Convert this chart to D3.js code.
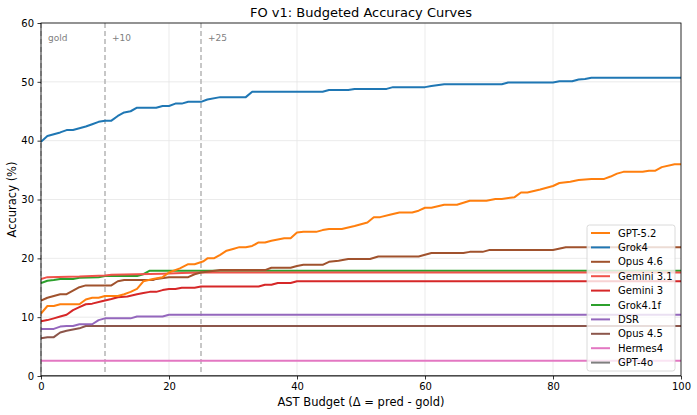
<!DOCTYPE html>
<html>
<head>
<meta charset="utf-8">
<script src="https://cdn.jsdelivr.net/npm/d3@7"></script>
<style>
  body { margin: 0; background: #fff; }
  text { font-family: "DejaVu Sans", sans-serif; }
</style>
</head>
<body>
<svg id="chart" width="697" height="415"></svg>
<script>
// budget (x) and accuracy (y) vertices per model
var gpt52X = [0, 1, 2, 3, 6, 7, 8, 9, 10, 12, 13, 14, 15, 16, 17.5, 19, 20, 21.7, 23, 24, 25.4, 26, 27, 28, 29, 30, 31, 32, 33, 34, 35, 36, 38, 39, 40, 41, 43, 44, 45, 47, 49, 51, 52, 53, 54.5, 56, 58, 59, 60, 61, 63, 65, 67, 69.6, 71, 72, 74, 75, 76, 78, 80, 81, 82.7, 84, 86, 88, 89, 90, 91, 94, 95, 96, 97, 99, 100];
var gpt52Y = [10.6, 11.9, 11.9, 12.2, 12.2, 13.0, 13.3, 13.3, 13.6, 13.6, 13.9, 14.3, 14.8, 16.1, 16.5, 16.8, 17.6, 18.3, 19.0, 19.0, 19.5, 20.0, 20.0, 20.6, 21.3, 21.6, 21.9, 21.9, 22.1, 22.7, 22.7, 23.0, 23.4, 23.4, 24.4, 24.5, 24.5, 24.8, 25.0, 25.0, 25.5, 26.1, 27.0, 27.0, 27.4, 27.8, 27.8, 28.1, 28.6, 28.6, 29.1, 29.1, 29.8, 29.8, 30.1, 30.1, 30.4, 31.2, 31.2, 31.7, 32.3, 32.8, 33.0, 33.3, 33.5, 33.5, 33.9, 34.4, 34.7, 34.7, 34.9, 34.9, 35.5, 36.0, 36.0];

var grok4X = [0, 1, 2, 3, 4, 5, 6, 7, 8, 9, 10, 11, 12, 13, 14, 15, 18, 19, 20, 21, 22, 23, 25, 26, 28, 32, 33, 44, 45, 48, 49, 54, 55, 60, 61, 63, 72, 73, 80, 81, 83, 84, 85, 86, 100];
var grok4Y = [39.8, 40.8, 41.1, 41.4, 41.8, 41.8, 42.1, 42.4, 42.8, 43.2, 43.4, 43.4, 44.2, 44.8, 45.0, 45.6, 45.6, 45.9, 45.9, 46.3, 46.3, 46.6, 46.6, 47.0, 47.4, 47.4, 48.3, 48.3, 48.6, 48.6, 48.8, 48.8, 49.1, 49.1, 49.3, 49.6, 49.6, 49.9, 49.9, 50.1, 50.1, 50.4, 50.5, 50.7, 50.7];

var opus46X = [0, 1, 2, 3, 4, 5, 6, 7, 11, 12, 13, 17.5, 18, 20, 23, 24, 25, 28, 35, 36, 39, 40, 41, 44, 45, 46.5, 48, 51.4, 52.7, 59, 61, 66, 67, 69, 70, 80, 82, 100];
var opus46Y = [12.8, 13.3, 13.6, 13.9, 13.9, 14.5, 15.1, 15.4, 15.4, 16.1, 16.3, 16.3, 16.5, 16.8, 16.8, 17.3, 17.6, 18.0, 18.0, 18.4, 18.4, 18.7, 18.9, 18.9, 19.4, 19.6, 19.9, 19.9, 20.3, 20.3, 20.9, 20.9, 21.1, 21.1, 21.4, 21.4, 21.9, 21.9];

var gemini31X = [0, 1, 6, 10, 11, 15, 19, 22, 25, 100];
var gemini31Y = [16.5, 16.8, 16.9, 17.1, 17.2, 17.3, 17.4, 17.5, 17.6, 17.6];

var gemini3X = [0, 1, 2, 3, 4, 5, 6, 7, 8, 9.5, 11, 12, 13.5, 15, 16, 17, 18, 19, 20, 21, 22, 24, 25, 34, 35, 36, 37, 39, 40, 100];
var gemini3Y = [9.3, 9.5, 9.8, 10.1, 10.4, 11.2, 11.7, 12.2, 12.3, 12.7, 13.1, 13.4, 13.5, 13.9, 14.1, 14.3, 14.3, 14.6, 14.8, 14.8, 15.0, 15.0, 15.2, 15.2, 15.5, 15.5, 15.8, 15.8, 16.1, 16.1];

var grok41fX = [0, 1, 2, 3, 5, 6, 9, 10, 15, 16, 17, 100];
var grok41fY = [15.8, 16.2, 16.3, 16.5, 16.5, 16.7, 16.8, 17.0, 17.0, 17.3, 17.9, 17.9];

var dsrX = [0, 2, 3, 4, 5, 6, 8, 9, 10, 14, 15, 19, 20, 100];
var dsrY = [8.0, 8.0, 8.4, 8.5, 8.5, 8.8, 8.8, 9.5, 9.8, 9.8, 10.1, 10.1, 10.4, 10.4];

var opus45X = [0, 1, 2, 3, 4, 6, 7, 100];
var opus45Y = [6.4, 6.6, 6.6, 7.4, 7.7, 8.1, 8.5, 8.5];

var hermes4X = [0, 100];
var hermes4Y = [2.6, 2.6];

var gpt4oX = [0, 100];
var gpt4oY = [0, 0];

var models = ["GPT-5.2", "Grok4", "Opus 4.6", "Gemini 3.1", "Gemini 3", "Grok4.1f", "DSR", "Opus 4.5", "Hermes4", "GPT-4o"];
var modelX = [gpt52X, grok4X, opus46X, gemini31X, gemini3X, grok41fX, dsrX, opus45X, hermes4X, gpt4oX];
var modelY = [gpt52Y, grok4Y, opus46Y, gemini31Y, gemini3Y, grok41fY, dsrY, opus45Y, hermes4Y, gpt4oY];
var colors = ["#ff7f0e", "#1f77b4", "#a0522d", "#f0524a", "#d62728", "#2ca02c", "#9467bd", "#8c564b", "#e377c2", "#7f7f7f"];

var xTicks = [0, 20, 40, 60, 80, 100];
var yTicks = [0, 10, 20, 30, 40, 50, 60];
var markers = [0, 10, 25];
var markerLabels = ["gold", "+10", "+25"];

var svg = d3.select("#chart");
var margin = {top: 23, right: 16, bottom: 39, left: 41};
var width = 697 - margin.left - margin.right,
    height = 415 - margin.top - margin.bottom;

var g = svg.append("g").attr("transform", "translate(" + margin.left + "," + margin.top + ")");

var x = d3.scaleLinear().domain([0, 100]).range([0, width]);
var y = d3.scaleLinear().domain([0, 60]).range([height, 0]);

// grid
g.append("g").selectAll("line").data(xTicks).enter().append("line")
    .attr("x1", function(d) { return x(d); }).attr("x2", function(d) { return x(d); })
    .attr("y1", 0).attr("y2", height)
    .attr("stroke", "#e6e6e6").attr("stroke-width", 0.8);
g.append("g").selectAll("line").data(yTicks).enter().append("line")
    .attr("x1", 0).attr("x2", width)
    .attr("y1", function(d) { return y(d); }).attr("y2", function(d) { return y(d); })
    .attr("stroke", "#e6e6e6").attr("stroke-width", 0.8);

// budget markers
g.append("g").selectAll("line").data(markers).enter().append("line")
    .attr("x1", function(d) { return x(d); }).attr("x2", function(d) { return x(d); })
    .attr("y1", 0).attr("y2", height)
    .attr("stroke", "#b0b0b0").attr("stroke-width", 1.4)
    .attr("stroke-dasharray", "5,3");
g.append("g").selectAll("text").data(markers).enter().append("text")
    .attr("x", function(d) { return x(d) + 7; })
    .attr("y", 18)
    .attr("font-size", "9px")
    .attr("fill", "#808080")
    .text(function(d, i) { return markerLabels[i]; });

g.append("clipPath").attr("id", "clip").append("rect")
    .attr("x", 0).attr("y", -2).attr("width", width).attr("height", height + 2);

var line = d3.line()
    .x(function(d) { return x(d[0]); })
    .y(function(d) { return y(d[1]); });

var curves = g.append("g").attr("clip-path", "url(#clip)");
for (var i = models.length - 1; i >= 0; i--) {
    var pts = modelX[i].map(function(v, j) { return [v, modelY[i][j]]; });
    curves.append("path")
        .datum(pts)
        .attr("d", line)
        .attr("fill", "none")
        .attr("stroke", colors[i])
        .attr("stroke-width", 2)
        .attr("stroke-linejoin", "round");
}

// axes
var xAxis = g.append("g").attr("transform", "translate(0," + height + ")")
    .call(d3.axisBottom(x).tickValues(xTicks).tickSize(3.5).tickPadding(3.5));
var yAxis = g.append("g")
    .call(d3.axisLeft(y).tickValues(yTicks).tickSize(3.5).tickPadding(3.5));
[xAxis, yAxis].forEach(function(a) {
    a.selectAll("text").attr("font-size", "10px").attr("fill", "#000")
        .style("font-family", "DejaVu Sans, sans-serif");
    a.selectAll("line").attr("stroke", "#000").attr("stroke-width", 0.8);
    a.select(".domain").remove();
});

g.append("rect").attr("width", width).attr("height", height)
    .attr("fill", "none").attr("stroke", "#000").attr("stroke-width", 0.8);

// title and labels
svg.append("text").attr("x", margin.left + width / 2).attr("y", 17)
    .attr("text-anchor", "middle").attr("font-size", "13px")
    .text("FO v1: Budgeted Accuracy Curves");
svg.append("text").attr("x", margin.left + width / 2).attr("y", 406)
    .attr("text-anchor", "middle").attr("font-size", "11.5px")
    .text("AST Budget (\u0394 = pred - gold)");
svg.append("text")
    .attr("transform", "translate(16," + (margin.top + height / 2) + ") rotate(-90)")
    .attr("text-anchor", "middle").attr("font-size", "11.5px")
    .text("Accuracy (%)");

// legend
var lg = g.append("g").attr("transform", "translate(" + (width - 94) + "," + (height - 151) + ")");
lg.append("rect").attr("width", 88).attr("height", 146).attr("rx", 2.5)
    .attr("fill", "#fff").attr("fill-opacity", 0.8)
    .attr("stroke", "#d0d0d0").attr("stroke-width", 0.8);
var items = lg.selectAll(".item").data(models).enter().append("g")
    .attr("class", "item")
    .attr("transform", function(d, i) { return "translate(4," + (8 + i * 14.4) + ")"; });
items.append("line").attr("x1", 0).attr("x2", 19).attr("y1", 0).attr("y2", 0)
    .attr("stroke", function(d, i) { return colors[i]; }).attr("stroke-width", 2);
items.append("text").attr("x", 27).attr("y", 3.5).attr("font-size", "10px")
    .text(function(d) { return d; });
</script>
</body>
</html>
